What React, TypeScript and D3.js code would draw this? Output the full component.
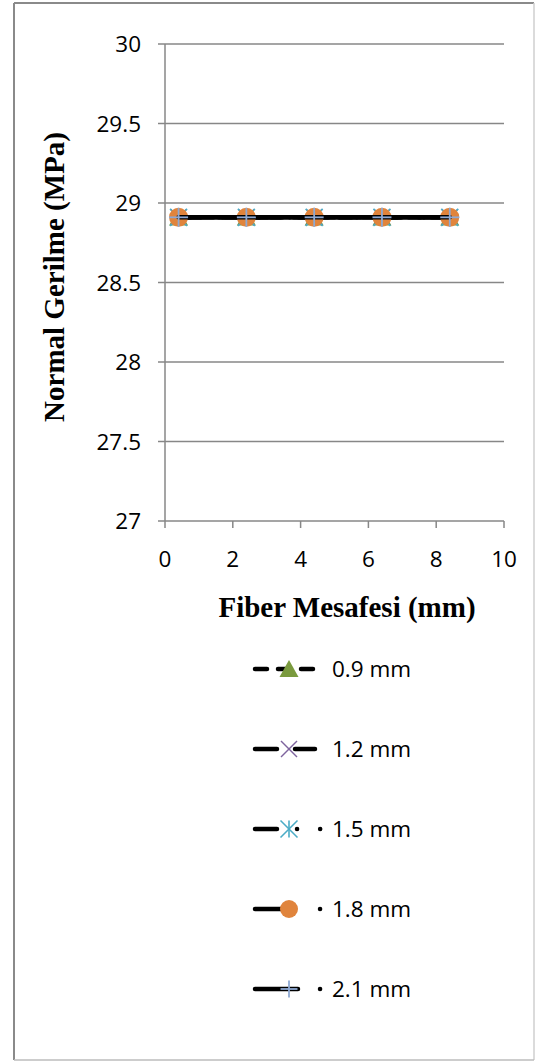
import React from "react";
import * as d3 from "d3";

const xValues = [0.4, 2.4, 4.4, 6.4, 8.4];
const seriesNames = ["0.9 mm", "1.2 mm", "1.5 mm", "1.8 mm", "2.1 mm"];
const series09 = [28.91, 28.91, 28.91, 28.91, 28.91];
const series12 = [28.91, 28.91, 28.91, 28.91, 28.91];
const series15 = [28.91, 28.91, 28.91, 28.91, 28.91];
const series18 = [28.91, 28.91, 28.91, 28.91, 28.91];
const series21 = [28.91, 28.91, 28.91, 28.91, 28.91];
const xTicks = [0, 2, 4, 6, 8, 10];
const yTicks = [27, 27.5, 28, 28.5, 29, 29.5, 30];

const allSeries = [series09, series12, series15, series18, series21];
const markerTypes = ["triangle", "x", "asterisk", "circle", "plus"];
const markerColors = ["#7a9a3e", "#7e649e", "#4bacc6", "#e0843c", "#8ea9d3"];
const legendDashes = ["12 11", "22 18", "22 20 0.1 23 0.1 100", "32 33 0.1 100", "43 22 0.1 100"];
const plotDashes = ["12 11", "22 18", "22 22 0.1 23", "none", "none"];

function Marker({ type, color, x, y, legend }: any) {
  if (type === "triangle") {
    const s = 9.5;
    return <path d={`M${x},${y - s * 0.95} L${x + s},${y + s * 0.85} L${x - s},${y + s * 0.85}Z`} fill={color} />;
  }
  if (type === "x") {
    const s = 8;
    return (
      <g stroke={color} strokeWidth={1.5}>
        <line x1={x - s} y1={y - s} x2={x + s} y2={y + s} />
        <line x1={x - s} y1={y + s} x2={x + s} y2={y - s} />
      </g>
    );
  }
  if (type === "asterisk") {
    const s = 8.5;
    return (
      <g stroke={color} strokeWidth={1.6}>
        <line x1={x - s} y1={y - s} x2={x + s} y2={y + s} />
        <line x1={x - s} y1={y + s} x2={x + s} y2={y - s} />
        <line x1={x} y1={y - s} x2={x} y2={y + s} />
      </g>
    );
  }
  if (type === "circle") {
    return <circle cx={x} cy={y} r={legend ? 9 : 9.5} fill={color} />;
  }
  const s = legend ? 8.5 : 9.5;
  return (
    <g stroke={color} strokeWidth={1.8}>
      <line x1={x - s} y1={y} x2={x + s} y2={y} />
      <line x1={x} y1={y - s} x2={x} y2={y + s} />
    </g>
  );
}

export default function App() {
  const W = 535, H = 1061;
  const left = 165, right = 504, top = 44, bottom = 521;
  const x = d3.scaleLinear().domain([0, 10]).range([left, right]);
  const y = d3.scaleLinear().domain([27, 30]).range([bottom, top]);
  const line = d3.line<number>().x((_, i) => x(xValues[i])).y((d) => y(d));
  const labelFont = "'Open Sans', Calibri, sans-serif";
  const titleFont = "'Liberation Serif', 'Times New Roman', serif";
  const legendY0 = 669, legendStep = 80;

  return (
    <svg width={W} height={H} style={{ position: "absolute", left: 0, top: 0, background: "#fff" }}>
      <rect x={0} y={0} width={W} height={H} fill="#fff" />
      {/* outer frame */}
      <line x1={14} y1={3} x2={534} y2={3} stroke="#8a8a8a" strokeWidth={2} />
      <line x1={14} y1={3} x2={14} y2={1060} stroke="#8a8a8a" strokeWidth={2} />
      <line x1={534} y1={3} x2={534} y2={1060} stroke="#cfcfcf" strokeWidth={1.5} />
      <line x1={14} y1={1060} x2={534} y2={1060} stroke="#bdbdbd" strokeWidth={1.5} />

      {/* gridlines & y ticks */}
      {yTicks.map((t) => (
        <g key={t}>
          <line x1={left - 7} x2={right} y1={y(t)} y2={y(t)} stroke="#878787" strokeWidth={1.5} />
          <text x={141} y={y(t) + 8} textAnchor="end" fontFamily={labelFont} fontSize={22.5} fill="#000">
            {t}
          </text>
        </g>
      ))}
      <line x1={left} x2={left} y1={top} y2={bottom} stroke="#878787" strokeWidth={1.5} />
      {xTicks.map((t) => (
        <g key={t}>
          <line x1={x(t)} x2={x(t)} y1={bottom} y2={bottom + 7} stroke="#878787" strokeWidth={1.5} />
          <text x={x(t)} y={567} textAnchor="middle" fontFamily={labelFont} fontSize={22.5} fill="#000">
            {t}
          </text>
        </g>
      ))}

      {/* axis titles */}
      <text x={347} y={617} textAnchor="middle" fontFamily={titleFont} fontWeight="bold" fontSize={29}>
        Fiber Mesafesi (mm)
      </text>
      <text transform={`translate(64,277) rotate(-90)`} textAnchor="middle" fontFamily={titleFont} fontWeight="bold" fontSize={29}>
        Normal Gerilme (MPa)
      </text>

      {/* series */}
      {allSeries.map((s, si) => (
        <g key={si}>
          <path d={line(s) || ""} fill="none" stroke="#000" strokeWidth={4.5} strokeDasharray={plotDashes[si]} strokeLinecap="round" />
          {s.map((v, i) => (
            <Marker key={i} type={markerTypes[si]} color={markerColors[si]} x={x(xValues[i])} y={y(v)} />
          ))}
        </g>
      ))}

      {/* legend */}
      {seriesNames.map((n, i) => {
        const ly = legendY0 + i * legendStep;
        const lineEnd = i < 2 ? 315 : 322;
        return (
          <g key={n}>
            <line x1={255} x2={lineEnd} y1={ly} y2={ly} stroke="#000" strokeWidth={4.5} strokeLinecap="round" strokeDasharray={legendDashes[i]} />
            <Marker type={markerTypes[i]} color={markerColors[i]} x={289} y={ly} legend />
            <text x={332} y={ly + 8} fontFamily={labelFont} fontSize={22.5} fill="#000">
              {n}
            </text>
          </g>
        );
      })}
    </svg>
  );
}
